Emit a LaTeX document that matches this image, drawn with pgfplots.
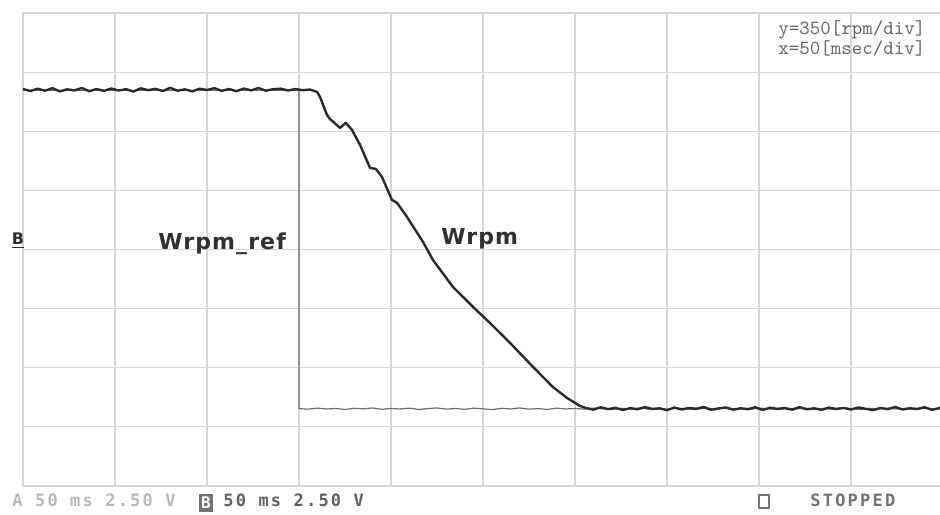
\documentclass[border=0pt]{standalone}
\usepackage{pgfplots}
\pgfplotsset{compat=1.18}
\usepackage{fontspec}
\newfontfamily\lblfont{DejaVu Sans}[BoldFont={DejaVu Sans Bold}, LetterSpace=5]
\newfontfamily\scopefont{DejaVu Sans Mono}[LetterSpace=13]
\definecolor{gridc}{HTML}{D6D6D6}
\definecolor{trace}{HTML}{2A2A2A}
\definecolor{reftrace}{HTML}{6E6E6E}
\definecolor{lbl}{HTML}{303030}
\definecolor{scale}{HTML}{666666}

\pgfplotstableread{
x y
0 2350
4 2338
8 2352
12 2340
16 2355
20 2336
24 2348
28 2342
32 2356
36 2337
40 2350
44 2339
48 2353
52 2341
56 2349
60 2335
64 2354
68 2343
72 2351
76 2338
80 2357
84 2340
88 2348
92 2336
96 2352
100 2344
104 2355
108 2339
112 2350
116 2337
120 2353
124 2342
128 2356
132 2340
136 2349
140 2352
144 2341
148 2350
152 2343
156 2347
159.8 2333
161.4 2304
165.2 2197
166.8 2173
172.3 2120
175.5 2150
178.8 2108
183.2 2019
188.6 1883
191.8 1877
195.1 1830
200.5 1694
203.3 1676
208.7 1593
217.4 1445
222.8 1338
233.7 1178
244.6 1060
253.8 965
264.7 847
277.2 705
288.0 586
295.7 521
302.7 474
306 462
310 452
314 466
318 455
322 463
326 450
330 461
334 454
338 467
342 456
346 460
350 449
354 464
358 453
362 462
366 457
370 468
374 451
378 459
382 465
386 452
390 460
394 455
398 466
402 450
406 463
410 457
414 461
418 452
422 467
426 454
430 460
434 451
438 464
442 456
446 462
450 453
454 465
458 457
462 449
466 462
470 455
474 468
478 453
482 460
486 456
490 466
494 451
498.4 462
}\wrpm

\pgfplotstableread{
x y
0 2342
150 2342
150 458
155 455
160 461
165 456
170 459
175 453
180 460
185 457
190 462
195 454
200 459
205 456
210 461
215 453
220 458
225 462
230 455
235 459
240 454
245 461
250 457
255 452
260 460
265 456
270 462
275 455
280 458
285 453
290 461
295 456
300 459
305 455
310 461
315 457
320 453
325 460
330 456
335 462
340 455
345 458
350 454
355 461
360 457
365 452
370 460
375 456
380 462
385 455
390 459
395 454
400 461
405 457
410 453
415 460
420 456
425 461
430 455
435 459
440 454
445 462
450 457
455 453
460 460
465 456
470 461
475 455
480 459
485 454
490 461
495 457
498.4 458
}\wref

\begin{document}
\begin{tikzpicture}
\fill[white] (-11.5pt,-14pt) rectangle (458.5pt,243pt);
\useasboundingbox (-11.5pt,-14pt) rectangle (458.5pt,243pt);
\begin{axis}[
  at={(0pt,0pt)}, anchor=south west,
  scale only axis, width=458.5pt, height=236.5pt,
  xmin=0, xmax=498.4, ymin=0, ymax=2800,
  xtick={0,50,100,150,200,250,300,350,400,450},
  ytick={0,350,700,1050,1400,1750,2100,2450,2800},
  xticklabels={}, yticklabels={},
  major tick length=0pt, tick style={draw=none},
  grid=major, major grid style={gridc, line width=0.6pt},
  axis line style={draw=none},
  clip=false,
]
\addplot[reftrace, line width=0.6pt, no marks] table[x=x,y=y] {\wref};
\addplot[trace, line width=1.2pt, no marks, line join=round] table[x=x,y=y] {\wrpm};
\end{axis}
% curve labels
\node[anchor=base west, inner sep=0, text=lbl, font=\lblfont\bfseries\fontsize{11}{13}\selectfont] at (67.5pt,118pt) {Wrpm\_ref};
\node[anchor=base west, inner sep=0, text=lbl, font=\lblfont\bfseries\fontsize{11}{13}\selectfont] at (209pt,120.5pt) {Wrpm};
% scale annotation
\node[anchor=base west, inner sep=0, text=scale, font=\ttfamily\fontsize{10}{12}\selectfont] at (377.5pt,225.5pt) {y=350[rpm/div]};
\node[anchor=base west, inner sep=0, text=scale, font=\ttfamily\fontsize{10}{12}\selectfont] at (377.5pt,215.5pt) {x=50[msec/div]};
% channel marker
\node[inner sep=0, text=lbl, font=\lblfont\bfseries\fontsize{8}{9}\selectfont] at (-2.5pt,122.5pt) {\underline{B}};
% status line
\node[anchor=base west, inner sep=0, text=black!28, font=\scopefont\bfseries\fontsize{8.5}{10}\selectfont] at (-5.5pt,-10pt) {A 50 ms 2.50 V};
\node[inner xsep=1.2pt, inner ysep=1.6pt, fill=black!55, text=white, font=\scopefont\bfseries\fontsize{8}{10}\selectfont] at (91.5pt,-8.5pt) {B};
\node[anchor=base west, inner sep=0, text=black!62, font=\scopefont\bfseries\fontsize{8.5}{10}\selectfont] at (100pt,-10pt) {50 ms 2.50 V};
\draw[black!55, line width=0.7pt] (368pt,-11pt) rectangle (373pt,-4.5pt);
\node[anchor=base west, inner sep=0, text=black!55, font=\scopefont\bfseries\fontsize{8.5}{10}\selectfont] at (393.5pt,-10pt) {STOPPED};
\end{tikzpicture}
\end{document}
